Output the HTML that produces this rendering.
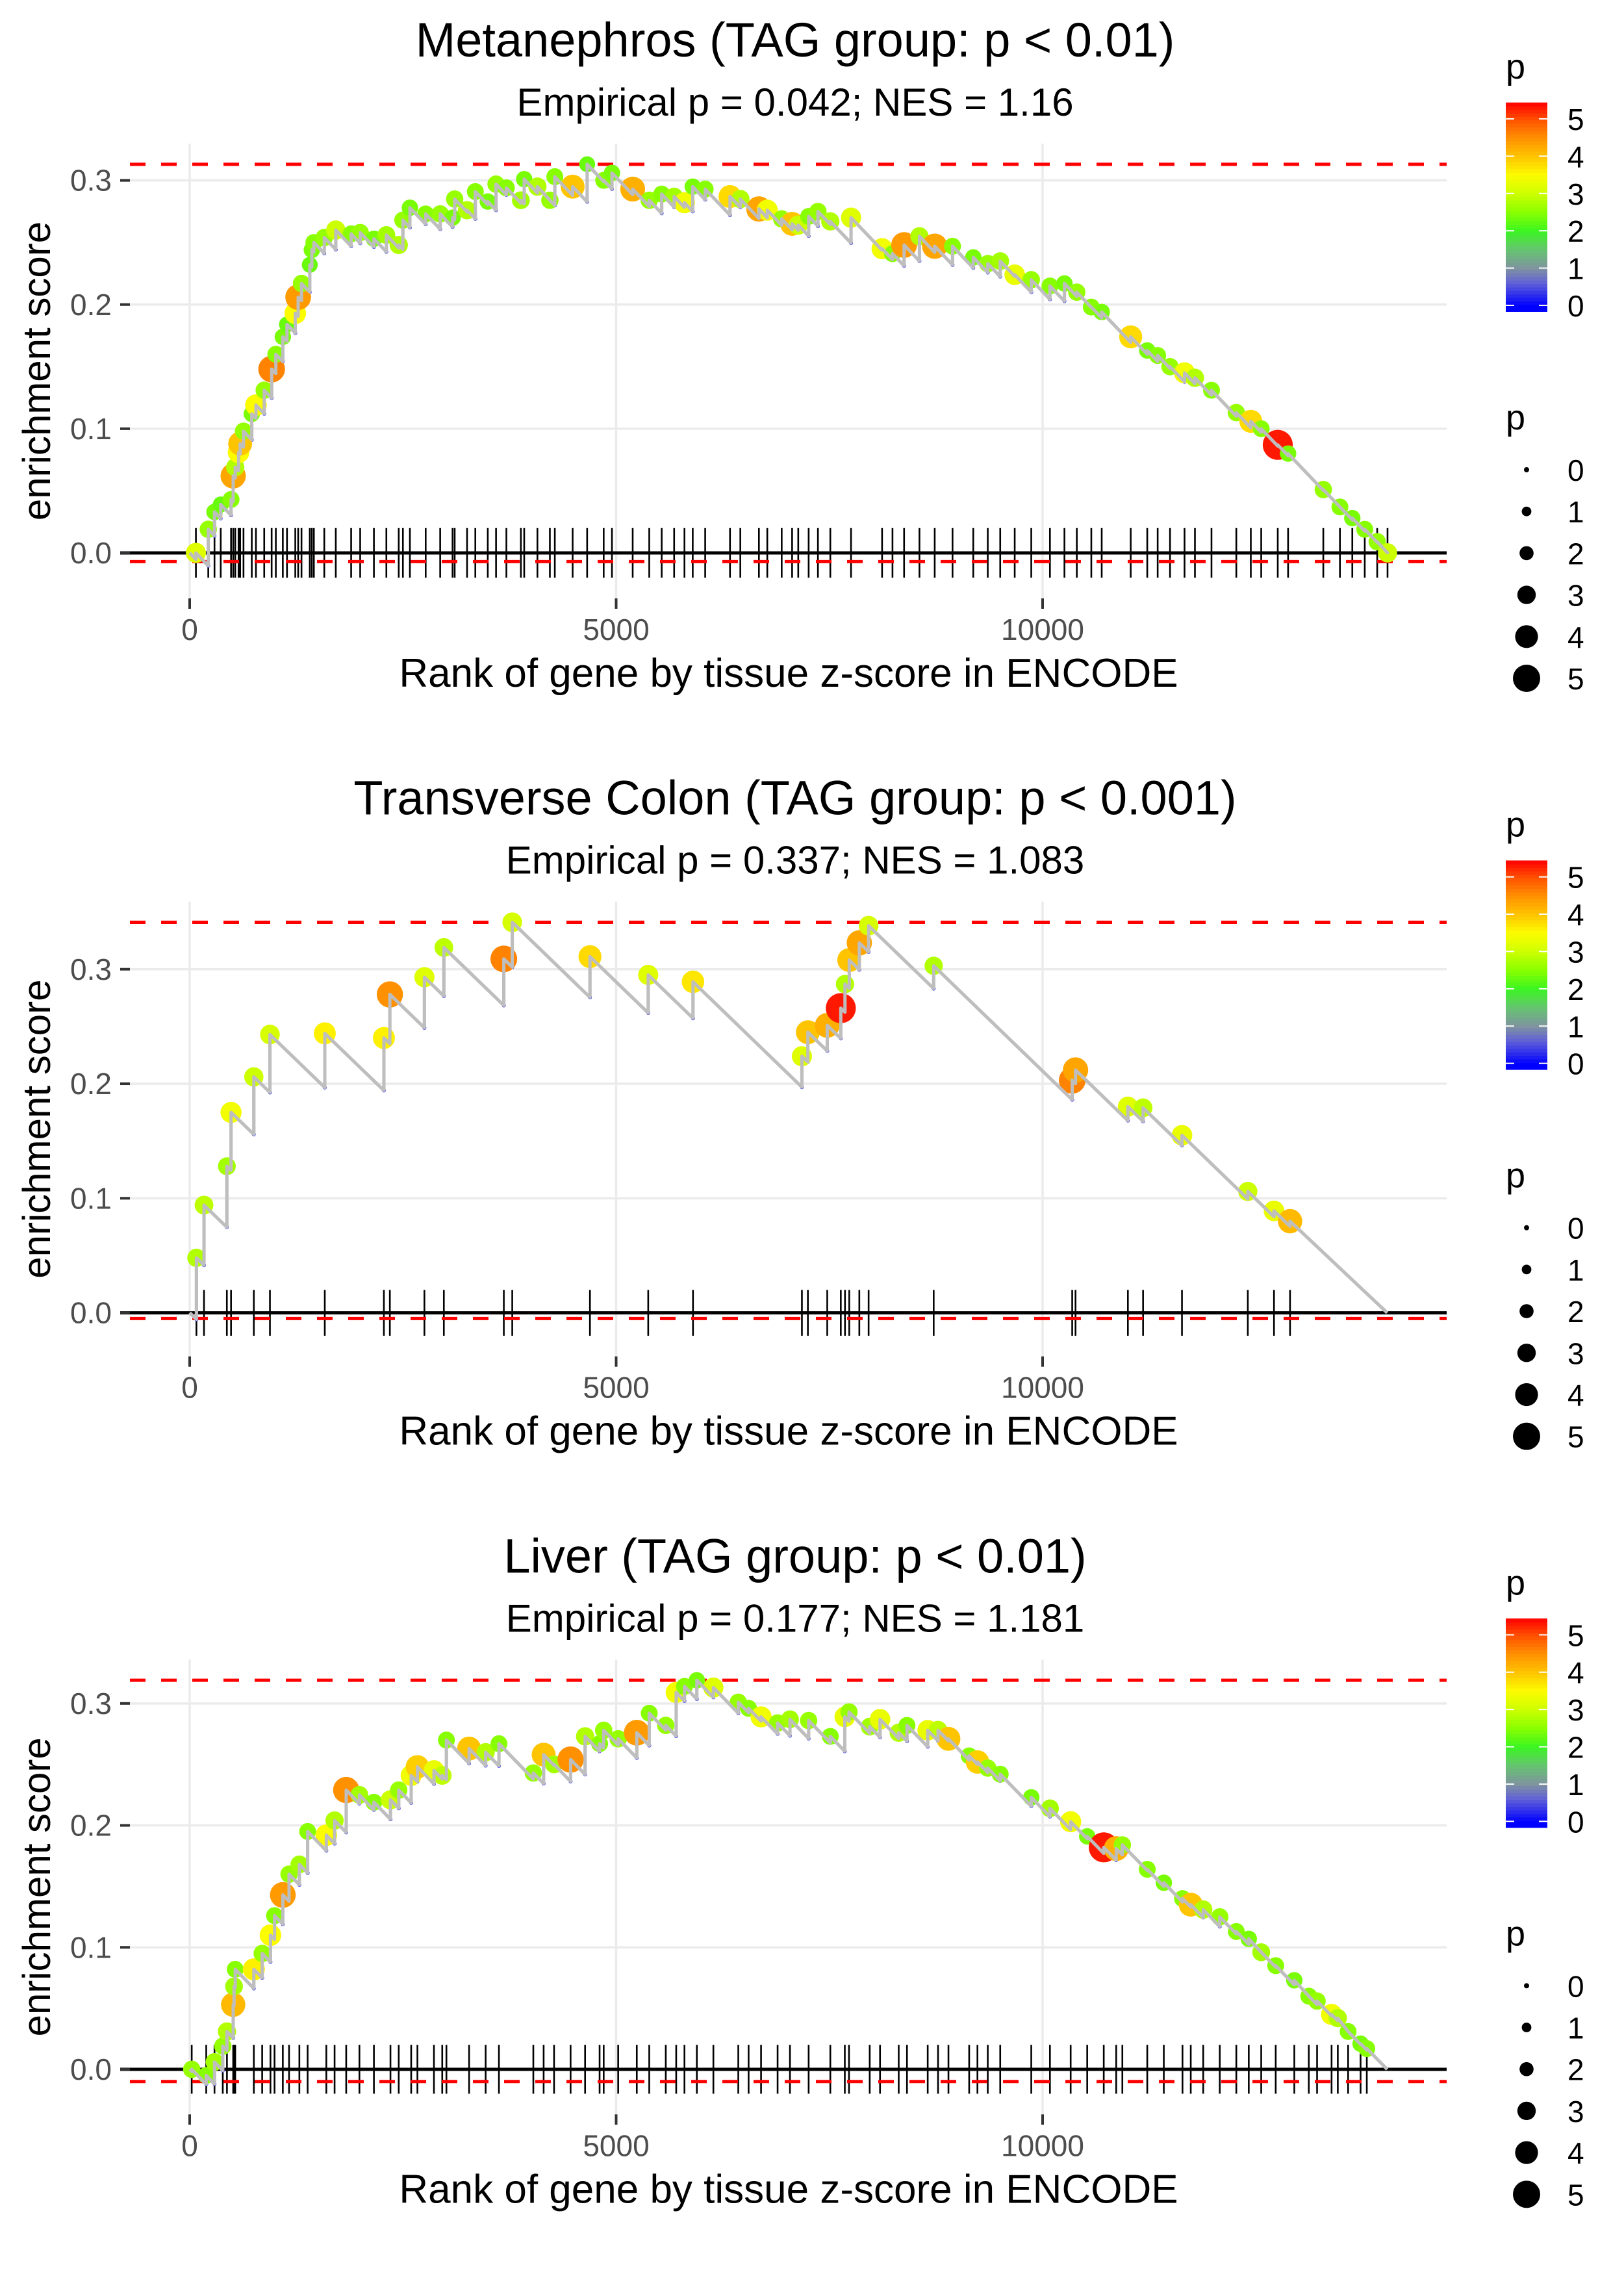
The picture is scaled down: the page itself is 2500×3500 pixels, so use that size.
<!DOCTYPE html>
<html><head><meta charset="utf-8">
<style>html,body{margin:0;padding:0;background:#fff}svg{display:block}text{font-family:"Liberation Sans",Arial,sans-serif}</style>
</head><body>
<svg id="fig" xmlns="http://www.w3.org/2000/svg" width="2500" height="3500" viewBox="0 0 2500 3500"></svg>
<script>
// ---- Panel 1: Metanephros ----
const title1 = "Metanephros (TAG group: p < 0.01)";
const subtitle1 = "Empirical p = 0.042; NES = 1.16";
const ranks1 = [73,218,291,364,485,510,534,573,592,631,728,777,874,961,1010,1092,1141,1238,1272,1311,1408,1432,1456,1578,1713,1893,1999,2160,2306,2451,2500,2582,2767,2937,3082,3107,3252,3349,3495,3592,3713,3883,3922,4077,4223,4281,4490,4660,4854,4951,5194,5388,5534,5680,5801,5898,6044,6335,6456,6674,6772,6941,7063,7135,7257,7366,7511,7754,8118,8240,8376,8556,8735,8944,9187,9357,9503,9673,9867,10086,10256,10401,10571,10693,11033,11227,11349,11494,11664,11786,11980,12271,12441,12563,12757,12878,13291,13486,13631,13777,13923,14044];
const es1 = [0.000,0.019,0.033,0.039,0.043,0.062,0.069,0.081,0.088,0.098,0.112,0.119,0.131,0.148,0.160,0.174,0.184,0.193,0.206,0.217,0.232,0.244,0.250,0.254,0.260,0.257,0.258,0.253,0.256,0.248,0.268,0.278,0.273,0.273,0.270,0.285,0.276,0.291,0.283,0.297,0.294,0.284,0.301,0.295,0.284,0.303,0.295,0.313,0.300,0.306,0.293,0.284,0.289,0.287,0.282,0.295,0.293,0.287,0.285,0.277,0.276,0.269,0.265,0.264,0.271,0.275,0.267,0.270,0.245,0.241,0.248,0.255,0.247,0.247,0.238,0.233,0.235,0.224,0.220,0.215,0.217,0.210,0.198,0.194,0.174,0.163,0.159,0.150,0.145,0.141,0.131,0.113,0.106,0.100,0.087,0.080,0.051,0.037,0.028,0.019,0.009,0.000];
const p1 = [3.2,2.6,2.4,2.3,2.5,4.3,2.8,3.5,4.0,2.6,2.4,3.5,2.6,4.6,2.5,2.4,2.3,3.5,4.4,2.6,2.3,2.4,2.5,2.6,3.0,2.5,2.6,2.4,2.7,2.8,2.6,2.4,2.5,2.6,2.4,2.6,2.8,2.5,2.4,2.6,2.5,2.7,2.4,2.8,2.6,2.5,4.0,2.3,2.5,2.4,4.2,2.6,2.5,2.7,3.4,2.4,2.5,3.8,2.8,4.3,3.4,2.6,4.0,3.0,2.5,2.6,2.8,3.2,3.4,2.5,4.4,2.8,4.3,2.5,2.4,2.6,2.7,3.3,2.6,2.5,2.4,2.6,2.5,2.4,3.8,2.4,2.5,2.6,3.4,2.8,2.5,2.6,3.8,2.5,5.3,2.4,2.6,2.5,2.4,2.5,2.6,3.0];
const minEs1 = -0.007;

// ---- Panel 2: Transverse Colon ----
const title2 = "Transverse Colon (TAG group: p < 0.001)";
const subtitle2 = "Empirical p = 0.337; NES = 1.083";
const ranks2 = [79,168,436,485,752,941,1584,2277,2347,2752,2980,3683,3782,4693,5376,5901,7178,7248,7475,7634,7683,7733,7851,7960,8723,10347,10386,11000,11178,11634,12406,12713,12901];
const es2 = [0.048,0.094,0.128,0.175,0.206,0.243,0.244,0.240,0.278,0.293,0.319,0.309,0.341,0.311,0.295,0.289,0.224,0.245,0.251,0.266,0.287,0.308,0.323,0.338,0.303,0.203,0.212,0.180,0.179,0.155,0.106,0.089,0.080];
const p2 = [2.8,2.9,2.7,3.4,3.0,3.1,3.6,3.6,4.5,3.2,2.9,4.6,3.1,3.8,3.2,3.7,3.2,4.0,4.2,5.3,2.8,4.0,4.3,3.1,2.8,4.6,4.3,3.2,2.9,3.3,3.0,3.3,4.1];
const minEs2 = -0.005;

// ---- Panel 3: Liver ----
const title3 = "Liver (TAG group: p < 0.01)";
const subtitle3 = "Empirical p = 0.177; NES = 1.181";
const ranks3 = [24,194,291,388,437,510,520,534,752,850,947,995,1092,1165,1286,1383,1602,1699,1835,1990,2160,2354,2451,2597,2670,2864,2961,3010,3276,3470,3626,4029,4150,4272,4466,4636,4806,4854,5024,5242,5388,5582,5704,5801,5946,6140,6432,6553,6699,6893,7038,7257,7511,7681,7730,7973,8094,8313,8410,8653,8774,8896,9139,9236,9357,9503,9867,10086,10329,10523,10717,10863,10935,11227,11421,11640,11737,11883,12077,12271,12417,12563,12733,12951,13121,13218,13388,13461,13582,13728,13801];
const es3 = [0.000,-0.005,0.006,0.019,0.031,0.053,0.068,0.082,0.082,0.095,0.110,0.126,0.143,0.160,0.168,0.195,0.192,0.204,0.229,0.225,0.219,0.221,0.229,0.241,0.248,0.245,0.241,0.270,0.263,0.260,0.267,0.243,0.258,0.250,0.254,0.273,0.267,0.278,0.271,0.276,0.292,0.282,0.309,0.314,0.319,0.313,0.301,0.296,0.289,0.284,0.287,0.286,0.273,0.289,0.293,0.281,0.287,0.276,0.282,0.278,0.278,0.271,0.257,0.252,0.247,0.242,0.223,0.214,0.203,0.191,0.182,0.181,0.184,0.164,0.153,0.140,0.135,0.131,0.125,0.113,0.107,0.096,0.085,0.073,0.060,0.056,0.045,0.042,0.031,0.021,0.017];
const p3 = [2.6,2.5,2.7,2.6,2.8,4.1,2.7,2.5,3.6,2.6,3.5,2.5,4.4,2.6,2.7,2.5,3.5,2.8,4.5,2.7,2.5,3.0,2.6,3.4,3.9,3.3,2.9,2.5,4.0,2.8,2.5,2.6,4.0,2.7,4.5,2.8,2.5,2.6,2.6,4.4,2.5,2.6,3.4,2.5,2.4,3.2,2.6,2.5,3.4,2.6,2.7,2.6,2.5,3.3,2.6,2.7,3.3,2.8,2.5,3.3,2.9,4.0,2.5,3.9,2.6,2.5,2.4,2.7,3.4,2.4,5.3,4.2,2.6,2.5,2.4,2.5,4.0,2.8,2.6,2.5,2.4,2.7,2.5,2.4,2.5,2.6,3.4,2.8,2.5,2.4,2.5];
const minEs3 = -0.010;

const xTickVals = [0,5000,10000];
const xTickLabels = ["0","5000","10000"];
const yTickVals = [0,0.1,0.2,0.3];
const yTickLabels = ["0.0","0.1","0.2","0.3"];
const legendVals = [0,1,2,3,4,5];
const nGenes = 14040;
const declinePerRank = 0.000072;

const NS = "http://www.w3.org/2000/svg";
const svg = document.getElementById('fig');
function mk(tag, attrs, parent) {
  const e = document.createElementNS(NS, tag);
  for (const k in attrs) e.setAttribute(k, attrs[k]);
  (parent || svg).appendChild(e);
  return e;
}
const stops = [[0,[0,0,255]],[0.6,[96,96,216]],[1,[127,147,160]],[1.5,[102,196,112]],[2,[59,245,34]],[2.5,[136,255,0]],[3,[204,255,0]],[3.5,[252,252,0]],[4,[255,196,0]],[4.5,[255,144,0]],[5,[255,80,0]],[5.44,[255,0,0]]];
function pColor(v) {
  if (v <= stops[0][0]) return 'rgb(0,0,255)';
  for (let i = 1; i < stops.length; i++) {
    if (v <= stops[i][0]) {
      const a = stops[i-1], b = stops[i], t = (v - a[0]) / (b[0] - a[0]);
      const c = a[1].map((x, j) => Math.round(x + (b[1][j] - x) * t));
      return 'rgb(' + c.join(',') + ')';
    }
  }
  return 'rgb(255,0,0)';
}
function pRadius(v) { return 4 + 3.6 * v; }

const PL = 200, PR = 2227, PT = 221, PB = 921;
function xS(r) { return 292 + r * 0.1313; }

const panels = [
  {title: title1, sub: subtitle1, ranks: ranks1, es: es1, p: p1, minEs: minEs1, name: 'metanephros'},
  {title: title2, sub: subtitle2, ranks: ranks2, es: es2, p: p2, minEs: minEs2, name: 'transverse-colon'},
  {title: title3, sub: subtitle3, ranks: ranks3, es: es3, p: p3, minEs: minEs3, name: 'liver'}
];

panels.forEach((P, idx) => {
  const oy = idx * 3500 / 3;
  const g = mk('g', {});
  
  
  const maxEs = Math.max.apply(null, P.es);
  const lo0 = Math.min(-0.02, P.minEs), hi0 = maxEs;
  const pad = (hi0 - lo0) * 0.05;
  const lo = lo0 - pad, hi = hi0 + pad;
  const yS = v => oy + PT + (hi - v) / (hi - lo) * (PB - PT);

  let t = mk('text', {x: 1224, y: oy + 87, 'font-size': 74, 'text-anchor': 'middle', fill: '#000', textLength: 1160, lengthAdjust: 'spacingAndGlyphs'}, g);
  t.textContent = P.title;
  t.removeAttribute('textLength'); t.removeAttribute('lengthAdjust');
  
  
  t = mk('text', {x: 1224, y: oy + 178, 'font-size': 60, 'text-anchor': 'middle', fill: '#000'}, g);
  t.textContent = P.sub;
  
  

  yTickVals.forEach(v => {
    const l = mk('line', {x1: PL, x2: PR, y1: yS(v), y2: yS(v), stroke: '#ebebeb', 'stroke-width': 3.5}, g);
    
    
  });
  xTickVals.forEach(v => {
    const l = mk('line', {x1: xS(v), x2: xS(v), y1: oy + PT, y2: oy + PB, stroke: '#ebebeb', 'stroke-width': 3.5}, g);
    
    
  });

  P.ranks.forEach(r => {
    const l = mk('line', {x1: xS(r), x2: xS(r), y1: yS(0.02), y2: yS(-0.02), stroke: '#000', 'stroke-width': 2.6}, g);
    
    
  });
  let z = mk('line', {x1: 185, x2: PR, y1: yS(0), y2: yS(0), stroke: '#000', 'stroke-width': 5}, g);
  
  
  [maxEs, P.minEs].forEach((v, k) => {
    const l = mk('line', {x1: PL, x2: PR, y1: yS(v), y2: yS(v), stroke: '#ff0000', 'stroke-width': 5, 'stroke-dasharray': '24 24'}, g);
    
    
  });

  let d = 'M' + xS(0) + ' ' + yS(0);
  const troughs = [];
  let prevR = 0, prevE = 0;
  P.ranks.forEach((r, i) => {
    const tr = prevE - declinePerRank * (r - prevR);
    if (tr > P.es[i]) {
      d += ' L' + xS(r) + ' ' + yS(P.es[i]);
    } else {
      d += ' L' + xS(r) + ' ' + yS(tr) + ' L' + xS(r) + ' ' + yS(P.es[i]);
      troughs.push([r, tr]);
    }
    prevR = r; prevE = P.es[i];
  });
  d += ' L' + xS(nGenes) + ' ' + yS(0);
  const path = mk('path', {d: d, fill: 'none', stroke: '#bebebe', 'stroke-width': 5, 'stroke-linejoin': 'round'}, g);
  
  
  troughs.forEach(tq => {
    const c = mk('circle', {cx: xS(tq[0]), cy: yS(tq[1]), r: 3, fill: '#2020ff'}, g);
    
    
  });
  P.ranks.forEach((r, i) => {
    const c = mk('circle', {cx: xS(r), cy: yS(P.es[i]), r: pRadius(P.p[i]), fill: pColor(P.p[i])}, g);
    
    
  });
  const path2 = mk('path', {d: d, fill: 'none', stroke: '#bebebe', 'stroke-width': 5, 'stroke-linejoin': 'round'}, g);
  
  

  yTickVals.forEach((v, i) => {
    const l = mk('line', {x1: 185, x2: PL, y1: yS(v), y2: yS(v), stroke: '#333', 'stroke-width': 4}, g);
    
    
    const tx = mk('text', {x: 172, y: yS(v) + 16, 'font-size': 46, 'text-anchor': 'end', fill: '#4d4d4d'}, g);
    tx.textContent = yTickLabels[i];
    
    
  });
  xTickVals.forEach((v, i) => {
    const l = mk('line', {x1: xS(v), x2: xS(v), y1: oy + PB, y2: oy + PB + 16, stroke: '#333', 'stroke-width': 4}, g);
    
    
    const tx = mk('text', {x: xS(v), y: oy + 985, 'font-size': 46, 'text-anchor': 'middle', fill: '#4d4d4d'}, g);
    tx.textContent = xTickLabels[i];
    
    
  });
  t = mk('text', {x: 1214, y: oy + 1057, 'font-size': 62, 'text-anchor': 'middle', fill: '#000'}, g);
  t.textContent = 'Rank of gene by tissue z-score in ENCODE';
  
  
  const cy = oy + (PT + PB) / 2;
  t = mk('text', {x: 77, y: cy, 'font-size': 60, 'text-anchor': 'middle', fill: '#000', transform: 'rotate(-90 77 ' + cy + ')'}, g);
  t.textContent = 'enrichment score';
  
  

  const lg = mk('g', {}, g);
  
  
  t = mk('text', {x: 2318, y: oy + 121, 'font-size': 54, fill: '#000'}, lg);
  t.textContent = 'p';
  
  
  const ly = v => oy + 470 - v * 57.4;
  const nb = 60;
  for (let k = 0; k < nb; k++) {
    const v0 = -0.16 + (5.44 + 0.16) * k / nb, v1 = -0.16 + (5.44 + 0.16) * (k + 1) / nb;
    const r = mk('rect', {x: 2318, y: ly(v1), width: 64, height: ly(v0) - ly(v1) + 0.8, fill: pColor((v0 + v1) / 2)}, lg);
    
    
  }
  legendVals.forEach(v => {
    [[2318, 2331], [2369, 2382]].forEach(seg => {
      const l = mk('line', {x1: seg[0], x2: seg[1], y1: ly(v), y2: ly(v), stroke: '#fff', 'stroke-width': 2}, lg);
      
      
    });
    const tx = mk('text', {x: 2413, y: ly(v) + 17, 'font-size': 46, fill: '#000'}, lg);
    tx.textContent = String(v);
    
    
  });
  const sg = mk('g', {}, g);
  
  
  t = mk('text', {x: 2318, y: oy + 661, 'font-size': 54, fill: '#000'}, sg);
  t.textContent = 'p';
  
  
  legendVals.forEach((v, i) => {
    const yy = oy + 723 + i * 64.2;
    const c = mk('circle', {cx: 2350, cy: yy, r: 4 + 3.4 * v, fill: '#000'}, sg);
    
    
    const tx = mk('text', {x: 2413, y: yy + 17, 'font-size': 46, fill: '#000'}, sg);
    tx.textContent = String(v);
    
    
  });
});
</script>
</body></html>
